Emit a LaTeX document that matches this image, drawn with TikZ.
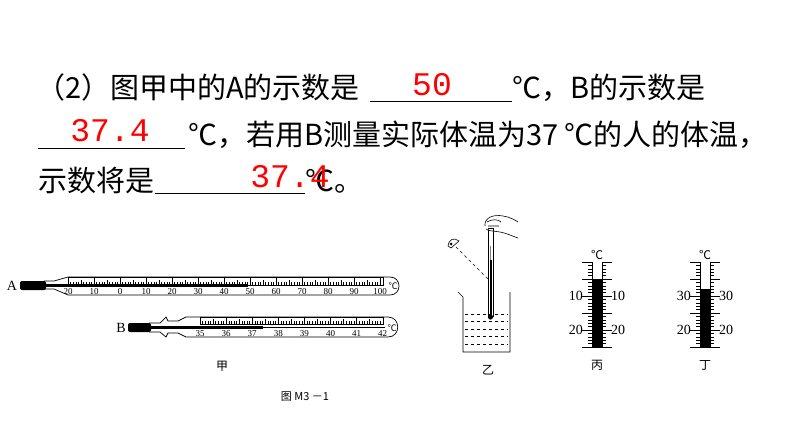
\documentclass[tikz,border=0pt]{standalone}
\usepackage{fontspec}
\setmainfont{Liberation Serif}
\newfontfamily\cjk{Noto Sans CJK SC}
\newfontfamily\redmono{Liberation Mono}
\begin{document}
\begin{tikzpicture}[x=1pt,y=-1pt,
  txt/.style={anchor=base west,inner sep=0,font=\cjk\fontsize{29}{29}\selectfont},
  ans/.style={anchor=base,inner sep=0,text=red,font=\redmono\fontsize{33}{33}\selectfont},
  lab/.style={inner sep=0,font=\fontsize{9}{9}\selectfont},
  big/.style={inner sep=0,font=\fontsize{14}{14}\selectfont},
  figcap/.style={inner sep=0,font=\cjk\fontsize{12}{12}\selectfont},
  blank/.style={line width=0.6pt}]
\useasboundingbox (0,0) rectangle (794,447);
% text
\node[txt] (t1) at (36,98) {（2）图甲中的A的示数是};
\coordinate (u1a) at (370,101); \coordinate (u1b) at (512,101);
\draw[blank] (u1a) -- (u1b);
\node[ans] (a1) at (432,95) {50};
\node[txt] (t2) at (512,98) {℃，B的示数是};
\coordinate (u2a) at (38,148); \coordinate (u2b) at (185,148);
\draw[blank] (u2a) -- (u2b);
\node[ans] (a2) at (110,141) {37.4};
\node[txt] (t3) at (188,145) {℃，若用B测量实际体温为37 ℃的人的体温，};
\node[txt] (t4) at (38,191) {示数将是};
\coordinate (u3a) at (155,193); \coordinate (u3b) at (305,193);
\draw[blank] (u3a) -- (u3b);
\node[txt] (t5) at (305,191) {℃。};
\node[ans] (a3) at (290,187) {37.4};
% Thermometer A
\node[big] (A) at (12,286) {A};
\draw[line width=0.7pt] (44,281) -- (54,281) -- (68,277) -- (390,277) .. controls (402,277) and (402,295) .. (390,295) -- (68,295) -- (54,289) -- (44,289);
\fill[rounded corners=2pt] (20,281) rectangle (46,290);
\draw (68,277) rectangle (383,285);
\foreach \i in {0,...,120}{
  \pgfmathsetmacro\xx{68+\i*2.6}
  \pgfmathsetmacro\len{mod(\i,10)==0?8:(mod(\i,5)==0?5.5:3.5)}
  \draw[line width=0.4pt] (\xx,285) -- (\xx,285-\len);}
\draw[line width=0.5pt] (44,285.5) -- (383,285.5);
\fill (44,284) rectangle (248,287);
\foreach \v [count=\k from 0] in {20,10,0,10,20,30,40,50,60,70,80,90,100}
  \node[lab] (la\k) at (68+\k*26,292) {\v};
\node[lab,font=\cjk\fontsize{9}{9}\selectfont] (cA) at (393,286) {℃};
% Thermometer B
\node[big] (B) at (121,328) {B};
\draw[line width=0.7pt] (149,323) -- (160,323) -- (166,317) -- (168,321) -- (178,321) -- (186,317) -- (388,317) .. controls (401,317) and (401,337) .. (388,337) -- (186,337) -- (178,333) -- (168,333) -- (166,337) -- (160,332) -- (149,332);
\fill[rounded corners=2pt] (128,323) rectangle (151,332);
\draw (200,317) rectangle (383,324);
\foreach \i in {0,...,70}{
  \pgfmathsetmacro\xx{200+\i*26.1/10}
  \pgfmathsetmacro\len{mod(\i,10)==0?7:(mod(\i,5)==0?5:3)}
  \draw[line width=0.4pt] (\xx,324) -- (\xx,324-\len);}
\draw[line width=0.5pt] (151,327.5) -- (385,327.5);
\fill (151,326) rectangle (263,329);
\foreach \v [count=\k from 0] in {35,36,37,38,39,40,41,42}
  \node[lab] (lb\k) at (200+\k*26.1,334) {\v};
\node[lab,font=\cjk\fontsize{9}{9}\selectfont] (cB) at (392,328) {℃};
\node[figcap] (jia) at (222,366) {甲};
% beaker 乙
\draw[line width=0.7pt] (458,292) -- (463,297) -- (463,352) -- (510,352) -- (510,292);
\foreach \yy in {314,321,329,336,344} \draw[dashed,line width=0.5pt] (465,\yy) -- (508,\yy);
\draw[line width=0.6pt] (488,228) rectangle (493,316);
\draw[line width=0.4pt,gray] (490.5,246) -- (490.5,314);
\fill (490.5,317) circle (2.6);
\fill (489.5,260) rectangle (491.5,316);
% hand
\draw[line width=0.6pt,fill=white] (485,226) .. controls (484,218) and (493,214) .. (503,216) .. controls (510,217) and (515,220) .. (518,222)
  (518,238) .. controls (512,236) and (506,233) .. (500,232) .. controls (494,231) and (488,231) .. (486,229);
\draw[line width=0.6pt] (487,222) .. controls (492,219) and (498,219) .. (501,222) (488,226) -- (499,226);
% eye
\draw[line width=0.6pt] (448,246) .. controls (449,239) and (454,237) .. (459,241) -- (451,248) -- cycle;
\fill (451,244) circle (1.5);
\coordinate (eye) at (456,247);
\coordinate (tm) at (488,279);
\draw[dashed,line width=0.5pt] (eye) -- (tm);
\node[figcap] (yi) at (488,370) {乙};
% 丙 and 丁
\foreach \cx/\top/\lu/\ll in {597/279/10/20,705/289/30/20}{
  \draw[line width=0.6pt] (\cx-5,262) -- (\cx-5,348) (\cx+5,262) -- (\cx+5,348);
  \fill (\cx-5,\top) rectangle (\cx+5,348);
  \foreach \j in {0,...,25}{
    \pgfmathsetmacro\yy{262+\j*3.4}
    \pgfmathsetmacro\len{mod(\j,5)==0?10:4}
    \draw[line width=0.5pt] (\cx-5-\len,\yy) -- (\cx-5,\yy) (\cx+5,\yy) -- (\cx+5+\len,\yy);}
  \node[big,anchor=east] at (\cx-14,296) {\lu};
  \node[big,anchor=west] at (\cx+14,296) {\lu};
  \node[big,anchor=east] at (\cx-14,330) {\ll};
  \node[big,anchor=west] at (\cx+14,330) {\ll};
  \node[lab,font=\cjk\fontsize{12}{12}\selectfont] at (\cx,255) {℃};
}
\node[figcap] (bing) at (597,365) {丙};
\node[figcap] (ding) at (705,365) {丁};
\node[figcap,font=\cjk\fontsize{11}{11}\selectfont] (fig) at (305,397) {图 M3 －1};
\end{tikzpicture}
\end{document}
